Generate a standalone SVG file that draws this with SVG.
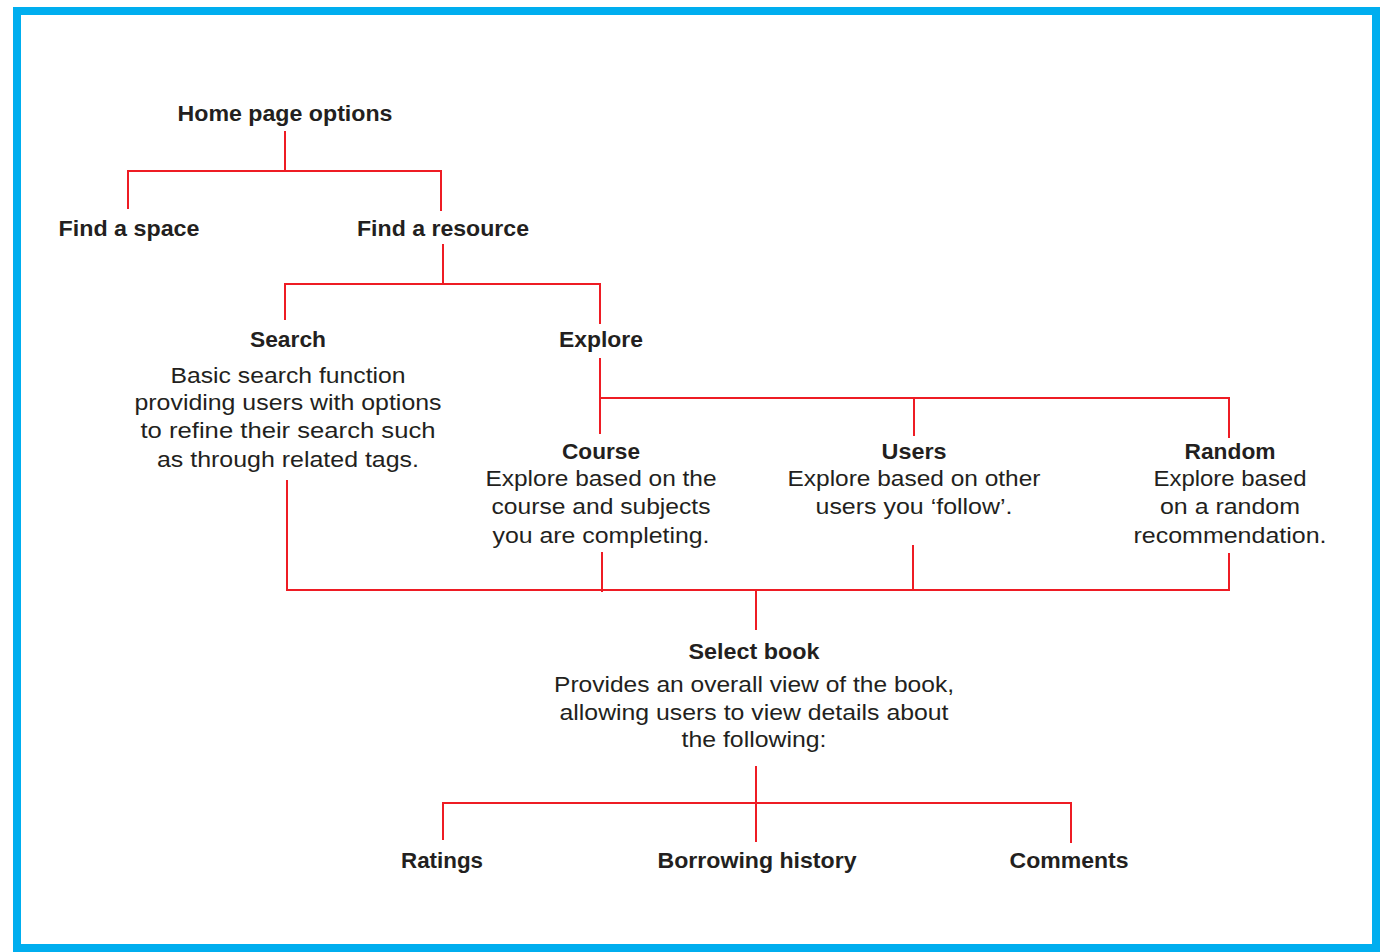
<svg xmlns="http://www.w3.org/2000/svg" width="1380" height="952" viewBox="0 0 1380 952">
<style>
.frame{fill:#fff;stroke:#00AEEF;stroke-width:8}
.c line,.c path{stroke:#EE1C24;stroke-width:2;fill:none}
text{font-family:"Liberation Sans",Arial,sans-serif;fill:#231F20;text-anchor:middle}
.t{font-weight:bold;font-size:22px}
.d{font-size:22px}
.n{font-family:"Liberation Sans Narrow","Liberation Sans",sans-serif}
</style>
<rect class="frame" x="17" y="11" width="1359" height="937"/>
<g class="c" id="connectors">
<path d="M285 131V171M128 209V171H441V211"/>
<path d="M443 244V284M285 320V284H600V324"/>
<path d="M600 358V434M600 398H1229V438M914 398V436"/>
<path d="M287 480V590H1229V553M602 552V592M913 545V590M756 590V630"/>
<path d="M756 766V842M443 840V803H1071V843"/>
</g>
<g id="home"><text class="t" x="285" y="121" textLength="215" lengthAdjust="spacingAndGlyphs">Home page options</text></g>
<g id="find-space"><text class="t" x="129" y="236" textLength="141" lengthAdjust="spacingAndGlyphs">Find a space</text></g>
<g id="find-resource"><text class="t" x="443" y="236" textLength="172" lengthAdjust="spacingAndGlyphs">Find a resource</text></g>
<g id="search">
<text class="t" x="288" y="347" textLength="76" lengthAdjust="spacingAndGlyphs">Search</text>
<text class="d" x="288" y="383" textLength="235" lengthAdjust="spacingAndGlyphs">Basic search function</text>
<text class="d" x="288" y="410" textLength="307" lengthAdjust="spacingAndGlyphs">providing users with options</text>
<text class="d" x="288" y="438" textLength="295" lengthAdjust="spacingAndGlyphs">to refine their search such</text>
<text class="d" x="288" y="467" textLength="262" lengthAdjust="spacingAndGlyphs">as through related tags.</text>
</g>
<g id="explore"><text class="t" x="601" y="347" textLength="84" lengthAdjust="spacingAndGlyphs">Explore</text></g>
<g id="course">
<text class="t" x="601" y="459" textLength="78" lengthAdjust="spacingAndGlyphs">Course</text>
<text class="d" x="601" y="486" textLength="231" lengthAdjust="spacingAndGlyphs">Explore based on the</text>
<text class="d" x="601" y="514" textLength="219" lengthAdjust="spacingAndGlyphs">course and subjects</text>
<text class="d" x="601" y="543" textLength="217" lengthAdjust="spacingAndGlyphs">you are completing.</text>
</g>
<g id="users">
<text class="t" x="914" y="459" textLength="65" lengthAdjust="spacingAndGlyphs">Users</text>
<text class="d" x="914" y="486" textLength="253" lengthAdjust="spacingAndGlyphs">Explore based on other</text>
<text class="d" x="914" y="514" textLength="197" lengthAdjust="spacingAndGlyphs">users you ‘follow’.</text>
</g>
<g id="random">
<text class="t" x="1230" y="459" textLength="91" lengthAdjust="spacingAndGlyphs">Random</text>
<text class="d" x="1230" y="486" textLength="153" lengthAdjust="spacingAndGlyphs">Explore based</text>
<text class="d" x="1230" y="514" textLength="140" lengthAdjust="spacingAndGlyphs">on a random</text>
<text class="d" x="1230" y="543" textLength="193" lengthAdjust="spacingAndGlyphs">recommendation.</text>
</g>
<g id="select-book">
<text class="t n" x="754" y="659" textLength="131" lengthAdjust="spacingAndGlyphs">Select book</text>
<text class="d n" x="754" y="692" textLength="400" lengthAdjust="spacingAndGlyphs">Provides an overall view of  the book,</text>
<text class="d n" x="754" y="720" textLength="389" lengthAdjust="spacingAndGlyphs">allowing users to view details about</text>
<text class="d n" x="754" y="747" textLength="145" lengthAdjust="spacingAndGlyphs">the following:</text>
</g>
<g id="ratings"><text class="t n" x="442" y="868" textLength="82" lengthAdjust="spacingAndGlyphs">Ratings</text></g>
<g id="borrowing"><text class="t n" x="757" y="868" textLength="199" lengthAdjust="spacingAndGlyphs">Borrowing history</text></g>
<g id="comments"><text class="t n" x="1069" y="868" textLength="119" lengthAdjust="spacingAndGlyphs">Comments</text></g>
</svg>
